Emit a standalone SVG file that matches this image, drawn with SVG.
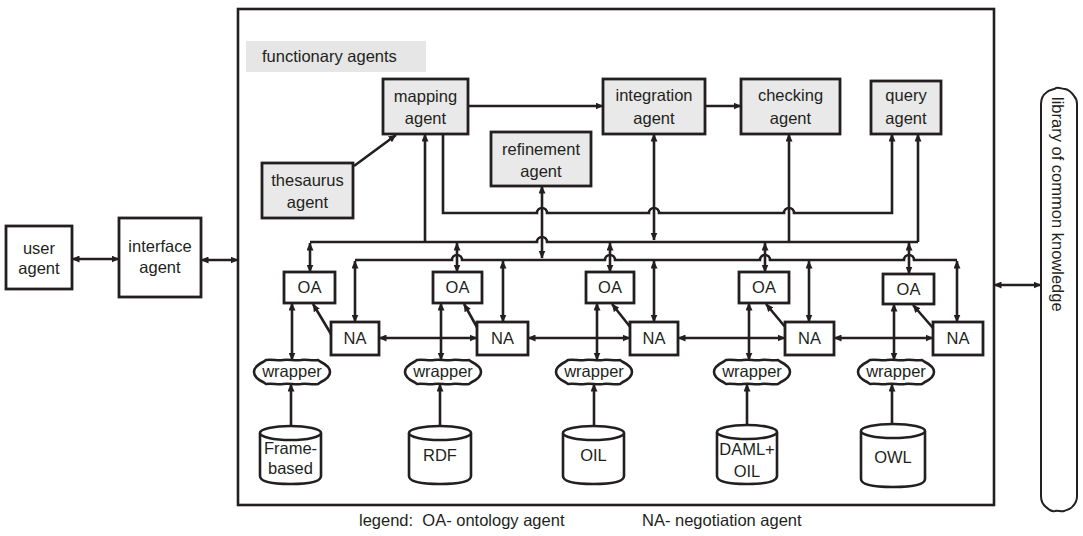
<svg xmlns="http://www.w3.org/2000/svg" width="1083" height="536" viewBox="0 0 1083 536">
<style>
  .box { fill: #ffffff; stroke: #231f20; stroke-width: 2.8; }
  .fbox { fill: #e9e9e9; stroke: #231f20; stroke-width: 2.8; }
  .ln { fill: none; stroke: #231f20; stroke-width: 2.6; }
  .lbl { font-family: "Liberation Sans", Arial, sans-serif; font-size: 16.5px; fill: #231f20; text-anchor: middle; }
  .lft { font-family: "Liberation Sans", Arial, sans-serif; font-size: 16.5px; fill: #231f20; }
</style>
<defs>
  <marker id="ah" viewBox="0 0 8 7" refX="7.5" refY="3.5" markerWidth="8" markerHeight="7" markerUnits="userSpaceOnUse" orient="auto-start-reverse">
    <path d="M0,0 L8,3.5 L0,7 z" fill="#231f20"/>
  </marker>
  <!-- lumpy outline used for the wrapper nodes, centred on 0,0 -->
  <path id="wrap" d="M-38,0 C-38,-5 -33,-8 -29,-10 L-26,-12 C-20,-13 -14,-11 -9,-12 C-3,-13 3,-11 9,-12 C14,-13 20,-11 26,-12 L29,-10 C33,-8 38,-5 38,0 C38,5 33,8 29,10 L26,12 C20,13 14,11 9,12 C3,13 -3,11 -9,12 C-14,13 -20,11 -26,12 L-29,10 C-33,8 -38,5 -38,0 Z" fill="#ffffff" stroke="#231f20" stroke-width="2.6"/>
</defs>

<rect width="1083" height="536" fill="#ffffff"/>

<!-- outer system frame -->
<g id="system">
  <rect x="238" y="9" width="756" height="496" fill="none" stroke="#231f20" stroke-width="2.6"/>
  <rect x="246" y="41" width="180" height="31" fill="#e6e6e6"/>
  <text class="lft" x="262" y="62">functionary agents</text>
</g>

<!-- connectors -->
<g id="connectors">
  <!-- outside agents -->
  <path class="ln" d="M72,259 H119" marker-start="url(#ah)" marker-end="url(#ah)"/>
  <path class="ln" d="M201,260 H238" marker-start="url(#ah)" marker-end="url(#ah)"/>
  <path class="ln" d="M994,285 H1041" marker-start="url(#ah)" marker-end="url(#ah)"/>

  <!-- functionary agents -->
  <path class="ln" d="M354,166 L396,135" marker-end="url(#ah)"/>
  <path class="ln" d="M468,106 H603" marker-end="url(#ah)"/>
  <path class="ln" d="M705,106 H741" marker-end="url(#ah)"/>
  <path class="ln" d="M443,134 V213 H537 a5,5 0 0 1 10,0 H649 a5,5 0 0 1 10,0 H784 a5,5 0 0 1 10,0 H892 V134" marker-end="url(#ah)"/>

  <!-- ontology agent bus -->
  <path class="ln" d="M310,242 H537 a5,5 0 0 1 10,0 H918"/>
  <path class="ln" d="M425,242 V134" marker-end="url(#ah)"/>
  <path class="ln" d="M542,186 V258" marker-start="url(#ah)" marker-end="url(#ah)"/>
  <path class="ln" d="M654,134 V240" marker-start="url(#ah)" marker-end="url(#ah)"/>
  <path class="ln" d="M789,242 V134" marker-end="url(#ah)"/>
  <path class="ln" d="M918,242 V134" marker-end="url(#ah)"/>

  <!-- negotiation agent bus -->
  <path class="ln" d="M355,260 H452 a5,5 0 0 1 10,0 H605 a5,5 0 0 1 10,0 H760 a5,5 0 0 1 10,0 H904 a5,5 0 0 1 10,0 H957"/>

  <!-- bus to OA -->
  <path class="ln" d="M310,243 V272" marker-start="url(#ah)" marker-end="url(#ah)"/>
  <path class="ln" d="M457,243 V272" marker-start="url(#ah)" marker-end="url(#ah)"/>
  <path class="ln" d="M610,243 V272" marker-start="url(#ah)" marker-end="url(#ah)"/>
  <path class="ln" d="M765,243 V272" marker-start="url(#ah)" marker-end="url(#ah)"/>
  <path class="ln" d="M909,243 V274" marker-start="url(#ah)" marker-end="url(#ah)"/>

  <!-- bus to NA -->
  <path class="ln" d="M355,261 V322" marker-start="url(#ah)" marker-end="url(#ah)"/>
  <path class="ln" d="M503,261 V322" marker-start="url(#ah)" marker-end="url(#ah)"/>
  <path class="ln" d="M654,261 V322" marker-start="url(#ah)" marker-end="url(#ah)"/>
  <path class="ln" d="M809,261 V322" marker-start="url(#ah)" marker-end="url(#ah)"/>
  <path class="ln" d="M957,261 V322" marker-start="url(#ah)" marker-end="url(#ah)"/>

  <!-- NA to OA -->
  <path class="ln" d="M331,334 L313,304" marker-end="url(#ah)"/>
  <path class="ln" d="M478,329 L464,304" marker-end="url(#ah)"/>
  <path class="ln" d="M631,328 L612,304" marker-end="url(#ah)"/>
  <path class="ln" d="M786,328 L766,304" marker-end="url(#ah)"/>
  <path class="ln" d="M933,328 L913,305" marker-end="url(#ah)"/>

  <!-- NA to NA -->
  <path class="ln" d="M379,338 H477" marker-start="url(#ah)" marker-end="url(#ah)"/>
  <path class="ln" d="M528,338 H630" marker-start="url(#ah)" marker-end="url(#ah)"/>
  <path class="ln" d="M678,338 H785" marker-start="url(#ah)" marker-end="url(#ah)"/>
  <path class="ln" d="M834,338 H933" marker-start="url(#ah)" marker-end="url(#ah)"/>

  <!-- OA to wrapper -->
  <path class="ln" d="M292,303 V360" marker-start="url(#ah)" marker-end="url(#ah)"/>
  <path class="ln" d="M441,303 V360" marker-start="url(#ah)" marker-end="url(#ah)"/>
  <path class="ln" d="M597,303 V360" marker-start="url(#ah)" marker-end="url(#ah)"/>
  <path class="ln" d="M749,303 V360" marker-start="url(#ah)" marker-end="url(#ah)"/>
  <path class="ln" d="M894,304 V360" marker-start="url(#ah)" marker-end="url(#ah)"/>

  <!-- wrapper to source -->
  <path class="ln" d="M291,384 V432" marker-start="url(#ah)" marker-end="url(#ah)"/>
  <path class="ln" d="M440,384 V432" marker-start="url(#ah)" marker-end="url(#ah)"/>
  <path class="ln" d="M594,384 V432" marker-start="url(#ah)" marker-end="url(#ah)"/>
  <path class="ln" d="M747,384 V431" marker-start="url(#ah)" marker-end="url(#ah)"/>
  <path class="ln" d="M892,384 V430" marker-start="url(#ah)" marker-end="url(#ah)"/>
</g>

<!-- outside agents -->
<g id="user-agent">
  <rect class="box" x="6" y="226" width="66" height="63"/>
  <text class="lbl" x="39" y="254">user</text>
  <text class="lbl" x="39" y="274">agent</text>
</g>
<g id="interface-agent">
  <rect class="box" x="119" y="218" width="82" height="79"/>
  <text class="lbl" x="160" y="252">interface</text>
  <text class="lbl" x="160" y="273">agent</text>
</g>
<g id="library">
  <path d="M1041,104 C1041,97 1044,94 1047,92 C1050,89 1054,90 1056,88 C1059,87 1062,89 1065,89 C1070,90 1072,93 1074,96 C1077,99 1077,102 1077,104 V496 C1077,500 1076,503 1073,506 C1071,509 1067,510 1064,511 C1061,512 1058,510 1055,511 C1051,512 1048,509 1046,507 C1042,504 1041,500 1041,496 Z" fill="#ffffff" stroke="#231f20" stroke-width="2"/>
  <text class="lft" x="1052" y="97" transform="rotate(90 1052 97)">library of common knowledge</text>
</g>

<!-- functionary agents -->
<g id="mapping-agent">
  <rect class="fbox" x="383" y="79" width="85" height="55"/>
  <text class="lbl" x="425.5" y="102">mapping</text>
  <text class="lbl" x="425.5" y="124">agent</text>
</g>
<g id="thesaurus-agent">
  <rect class="fbox" x="262" y="163" width="91" height="55"/>
  <text class="lbl" x="307.5" y="186">thesaurus</text>
  <text class="lbl" x="307.5" y="208">agent</text>
</g>
<g id="refinement-agent">
  <rect class="fbox" x="491" y="132" width="100" height="54"/>
  <text class="lbl" x="541" y="155">refinement</text>
  <text class="lbl" x="541" y="177">agent</text>
</g>
<g id="integration-agent">
  <rect class="fbox" x="603" y="79" width="102" height="55"/>
  <text class="lbl" x="654" y="101">integration</text>
  <text class="lbl" x="654" y="124">agent</text>
</g>
<g id="checking-agent">
  <rect class="fbox" x="741" y="79" width="99" height="55"/>
  <text class="lbl" x="790.5" y="101">checking</text>
  <text class="lbl" x="790.5" y="124">agent</text>
</g>
<g id="query-agent">
  <rect class="fbox" x="871" y="81" width="70" height="53"/>
  <text class="lbl" x="906" y="101">query</text>
  <text class="lbl" x="906" y="124">agent</text>
</g>

<!-- ontology agents -->
<g id="oa-1"><rect class="box" x="284" y="272" width="51" height="31"/><text class="lbl" x="309.5" y="293">OA</text></g>
<g id="oa-2"><rect class="box" x="433" y="272" width="49" height="31"/><text class="lbl" x="457.5" y="293">OA</text></g>
<g id="oa-3"><rect class="box" x="586" y="272" width="48" height="31"/><text class="lbl" x="610" y="293">OA</text></g>
<g id="oa-4"><rect class="box" x="739" y="272" width="50" height="31"/><text class="lbl" x="764" y="293">OA</text></g>
<g id="oa-5"><rect class="box" x="883" y="274" width="51" height="30"/><text class="lbl" x="908.5" y="295">OA</text></g>

<!-- negotiation agents -->
<g id="na-1"><rect class="box" x="331" y="322" width="48" height="33"/><text class="lbl" x="355" y="344">NA</text></g>
<g id="na-2"><rect class="box" x="477" y="322" width="51" height="33"/><text class="lbl" x="502.5" y="344">NA</text></g>
<g id="na-3"><rect class="box" x="630" y="322" width="48" height="33"/><text class="lbl" x="654" y="344">NA</text></g>
<g id="na-4"><rect class="box" x="785" y="322" width="49" height="33"/><text class="lbl" x="809.5" y="344">NA</text></g>
<g id="na-5"><rect class="box" x="933" y="322" width="50" height="33"/><text class="lbl" x="958" y="344">NA</text></g>

<!-- wrappers -->
<g id="wrapper-1"><use href="#wrap" transform="translate(292 372)"/><text class="lbl" x="292" y="377">wrapper</text></g>
<g id="wrapper-2"><use href="#wrap" transform="translate(443 372)"/><text class="lbl" x="443" y="377">wrapper</text></g>
<g id="wrapper-3"><use href="#wrap" transform="translate(594 372)"/><text class="lbl" x="594" y="377">wrapper</text></g>
<g id="wrapper-4"><use href="#wrap" transform="translate(752 372)"/><text class="lbl" x="752" y="377">wrapper</text></g>
<g id="wrapper-5"><use href="#wrap" transform="translate(896 372)"/><text class="lbl" x="896" y="377">wrapper</text></g>

<!-- ontology sources -->
<g id="src-frame">
  <path d="M260,433 V476 Q260,484 290.5,484 Q321,484 321,476 V433" fill="#ffffff" stroke="#231f20" stroke-width="2.6"/>
  <ellipse cx="290.5" cy="433" rx="30.5" ry="7" fill="#ffffff" stroke="#231f20" stroke-width="2.6"/>
  <text class="lbl" x="290.5" y="454">Frame-</text>
  <text class="lbl" x="290.5" y="474">based</text>
</g>
<g id="src-rdf">
  <path d="M409,433 V476 Q409,484 440,484 Q471,484 471,476 V433" fill="#ffffff" stroke="#231f20" stroke-width="2.6"/>
  <ellipse cx="440" cy="433" rx="31" ry="7" fill="#ffffff" stroke="#231f20" stroke-width="2.6"/>
  <text class="lbl" x="440" y="461">RDF</text>
</g>
<g id="src-oil">
  <path d="M563,433 V476 Q563,484 593.5,484 Q624,484 624,476 V433" fill="#ffffff" stroke="#231f20" stroke-width="2.6"/>
  <ellipse cx="593.5" cy="433" rx="30.5" ry="7" fill="#ffffff" stroke="#231f20" stroke-width="2.6"/>
  <text class="lbl" x="593.5" y="461">OIL</text>
</g>
<g id="src-daml">
  <path d="M717,432 V476 Q717,484 747,484 Q777,484 777,476 V432" fill="#ffffff" stroke="#231f20" stroke-width="2.6"/>
  <ellipse cx="747" cy="432" rx="30" ry="7" fill="#ffffff" stroke="#231f20" stroke-width="2.6"/>
  <text class="lbl" x="747" y="455">DAML+</text>
  <text class="lbl" x="747" y="477">OIL</text>
</g>
<g id="src-owl">
  <path d="M861,431 V479 Q861,487 893,487 Q925,487 925,479 V431" fill="#ffffff" stroke="#231f20" stroke-width="2.6"/>
  <ellipse cx="893" cy="431" rx="32" ry="7" fill="#ffffff" stroke="#231f20" stroke-width="2.6"/>
  <text class="lbl" x="893" y="463">OWL</text>
</g>

<!-- legend -->
<g id="legend">
  <text class="lft" x="359" y="526" xml:space="preserve">legend:  OA- ontology agent</text>
  <text class="lft" x="642" y="526">NA- negotiation agent</text>
</g>
</svg>
